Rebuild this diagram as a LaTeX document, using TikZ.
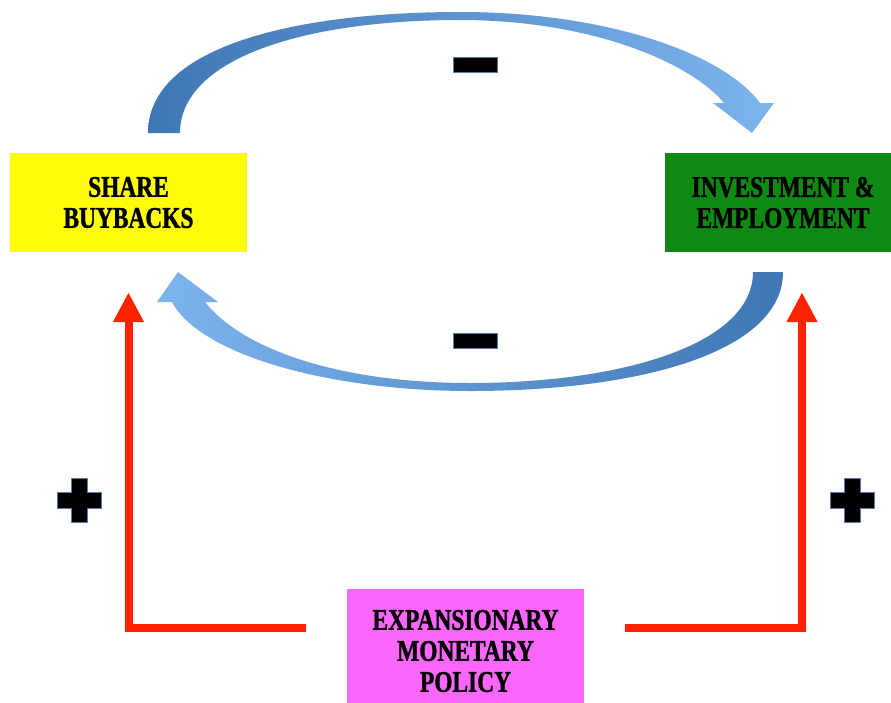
\documentclass[tikz,border=0pt]{standalone}
\usepackage{fontspec}
\usetikzlibrary{arrows.meta}
\newfontfamily\boxfont[FakeStretch=0.78, BoldFeatures={FakeBold=1.2}]{Liberation Serif}
\definecolor{buyyellow}{HTML}{FFFC08}
\definecolor{invgreen}{HTML}{0E8A12}
\definecolor{polmagenta}{HTML}{FB66FB}
\definecolor{loopred}{HTML}{FF2200}
\definecolor{arcdark}{HTML}{3F76B4}
\definecolor{arclight}{HTML}{7DB4EE}
\definecolor{signedge}{HTML}{4F7FB0}

\begin{document}
\begin{tikzpicture}[
        x=1pt, y=-1pt,
        line join=miter,
        box/.style={fill=#1, minimum width=237pt, minimum height=99pt, inner sep=0pt,
            align=center, font=\boxfont\bfseries\fontsize{30}{31}\selectfont},
        push/.style={draw=loopred, line width=8pt, -{Triangle[width=29pt,length=30pt]},
            shorten <=41pt, shorten >=40pt},
        signminus/.style={fill=black, draw=signedge, line width=0.8pt,
            minimum width=44pt, minimum height=15pt, inner sep=0pt},
        signplus/.pic={
            \filldraw[fill=black, draw=signedge, line width=0.8pt]
            (-8,-22) -- (8,-22) -- (8,-8) -- (22,-8) -- (22,8) -- (8,8)
            -- (8,22) -- (-8,22) -- (-8,8) -- (-22,8) -- (-22,-8) -- (-8,-8) -- cycle;
        }
    ]
    \useasboundingbox[fill=white] (0,0) rectangle (891,702);

    \node[box=buyyellow] (share) at (128.5,202.5) {SHARE\\BUYBACKS};
    \node[box=invgreen, minimum width=236pt] (invest) at (783,202.5) {INVESTMENT \&\\EMPLOYMENT};
    \node[box=polmagenta, minimum height=124pt] (policy) at (465.5,651) {EXPANSIONARY\\MONETARY\\POLICY};

    \shade[left color=arcdark, right color=arclight]
    (148,133) .. controls (148,45) and (300,12) .. (460,12)
    .. controls (610,12) and (725,55) .. (760,103)
    -- (774,103) -- (752,133) -- (713,103) -- (724,103)
    .. controls (690,62) and (590,20) .. (460,20)
    .. controls (300,20) and (180,60) .. (180,133) -- cycle;

    \shade[left color=arclight, right color=arcdark]
    (783,272) .. controls (783,352) and (640,391) .. (470,391)
    .. controls (330,391) and (200,355) .. (172,302)
    -- (157,302) -- (178,272) -- (218,302) -- (205,302)
    .. controls (245,352) and (345,383) .. (470,383)
    .. controls (620,383) and (753,345) .. (753,272) -- cycle;

    \node[signminus] (minustop) at (475.5,65) {};
    \node[signminus] (minusbottom) at (475.5,341) {};

    \draw[push] ([yshift=23pt]policy.west) -| (share.south);
    \draw[push] ([yshift=23pt]policy.east) -| ([xshift=19pt]invest.south);

    \pic at (79,500) {signplus};
    \pic at (852,500) {signplus};
\end{tikzpicture}
\end{document}
